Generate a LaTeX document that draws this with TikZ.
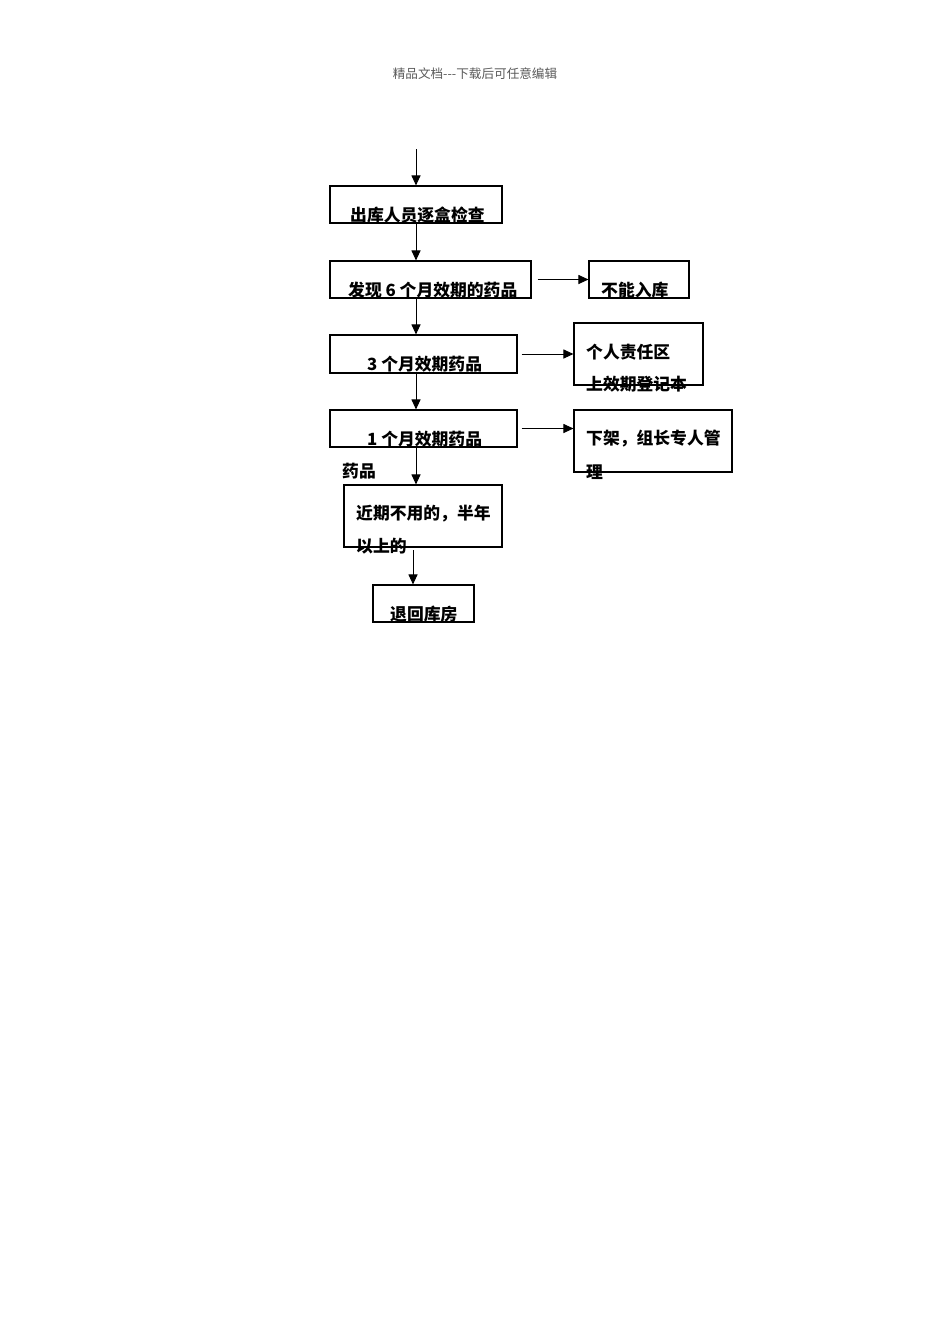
\documentclass[tikz,border=0pt]{standalone}
\usepackage{fontspec}
\setmainfont{Noto Sans CJK SC}
\usetikzlibrary{arrows.meta}
\begin{document}
\begin{tikzpicture}[x=1pt,y=-1pt,
  box/.style={draw,line width=1.1pt,inner sep=0pt,minimum width=#1},
  lbl/.style={font=\fontsize{16.8}{18}\selectfont\bfseries,inner sep=0pt,anchor=west},
  arr/.style={line width=1pt,-{Triangle[length=10pt,width=9pt]}}]
\useasboundingbox (0,0) rectangle (950,1344);
\node[text=black!65,font=\fontsize{12.6}{14}\selectfont,inner sep=0pt] (hdr) at (475,74) {精品文档{-}{-}{-}下载后可任意编辑};
% boxes
\node[box=172,minimum height=37] (b1) at (416,204.5) {};
\node[box=201,minimum height=37] (b2) at (430.5,279.5) {};
\node[box=100,minimum height=37] (r1) at (639,279.5) {};
\node[box=187,minimum height=38] (b3) at (423.5,354) {};
\node[box=129,minimum height=62] (r2) at (638.5,354) {};
\node[box=187,minimum height=37] (b4) at (423.5,428.5) {};
\node[box=158,minimum height=62] (r3) at (653,441) {};
\node[box=158,minimum height=62] (b5) at (423,516) {};
\node[box=101,minimum height=37] (b6) at (423.5,603.5) {};
% texts
\node[lbl] (t1) at (350,215) {出库人员逐盒检查};
\node[lbl] (t2) at (348,290) {发现 6 个月效期的药品};
\node[lbl] (t3) at (601,290) {不能入库};
\node[lbl] (t4) at (367,364) {3 个月效期药品};
\node[lbl] (t5) at (586,352) {个人责任区};
\node[lbl] (t6) at (586,384) {上效期登记本};
\node[lbl] (t7) at (367,439) {1 个月效期药品};
\node[lbl] (t8) at (586,439) {下架，组长专人管};
\node[lbl] (t9) at (586,472) {理};
\node[lbl] (t10) at (342,471) {药品};
\node[lbl] (t11) at (356,514) {近期不用的，半年};
\node[lbl] (t12) at (356,546) {以上的};
\node[lbl] (t13) at (390,614) {退回库房};
% connectors
\coordinate (top) at (416,149);
\coordinate (a5) at (413,547);
\draw[arr] (top) -- (b1.north);
\draw[arr] (b1.south) -- (b1.south |- b2.north);
\draw[arr] (b1.south |- b2.south) -- (b1.south |- b3.north);
\draw[arr] (b1.south |- b3.south) -- (b1.south |- b4.north);
\draw[arr] (b1.south |- b4.south) -- (b1.south |- b5.north);
\draw[arr,shorten <=3pt] (a5) -- (a5 |- b6.north);
\draw[arr,shorten <=6pt] (b2.east) -- (r1.west);
\draw[arr,shorten <=4pt] (b3.east) -- (r2.west);
\draw[arr,shorten <=4pt] (b4.east) -- (b4.east -| r3.west);
\end{tikzpicture}
\end{document}
